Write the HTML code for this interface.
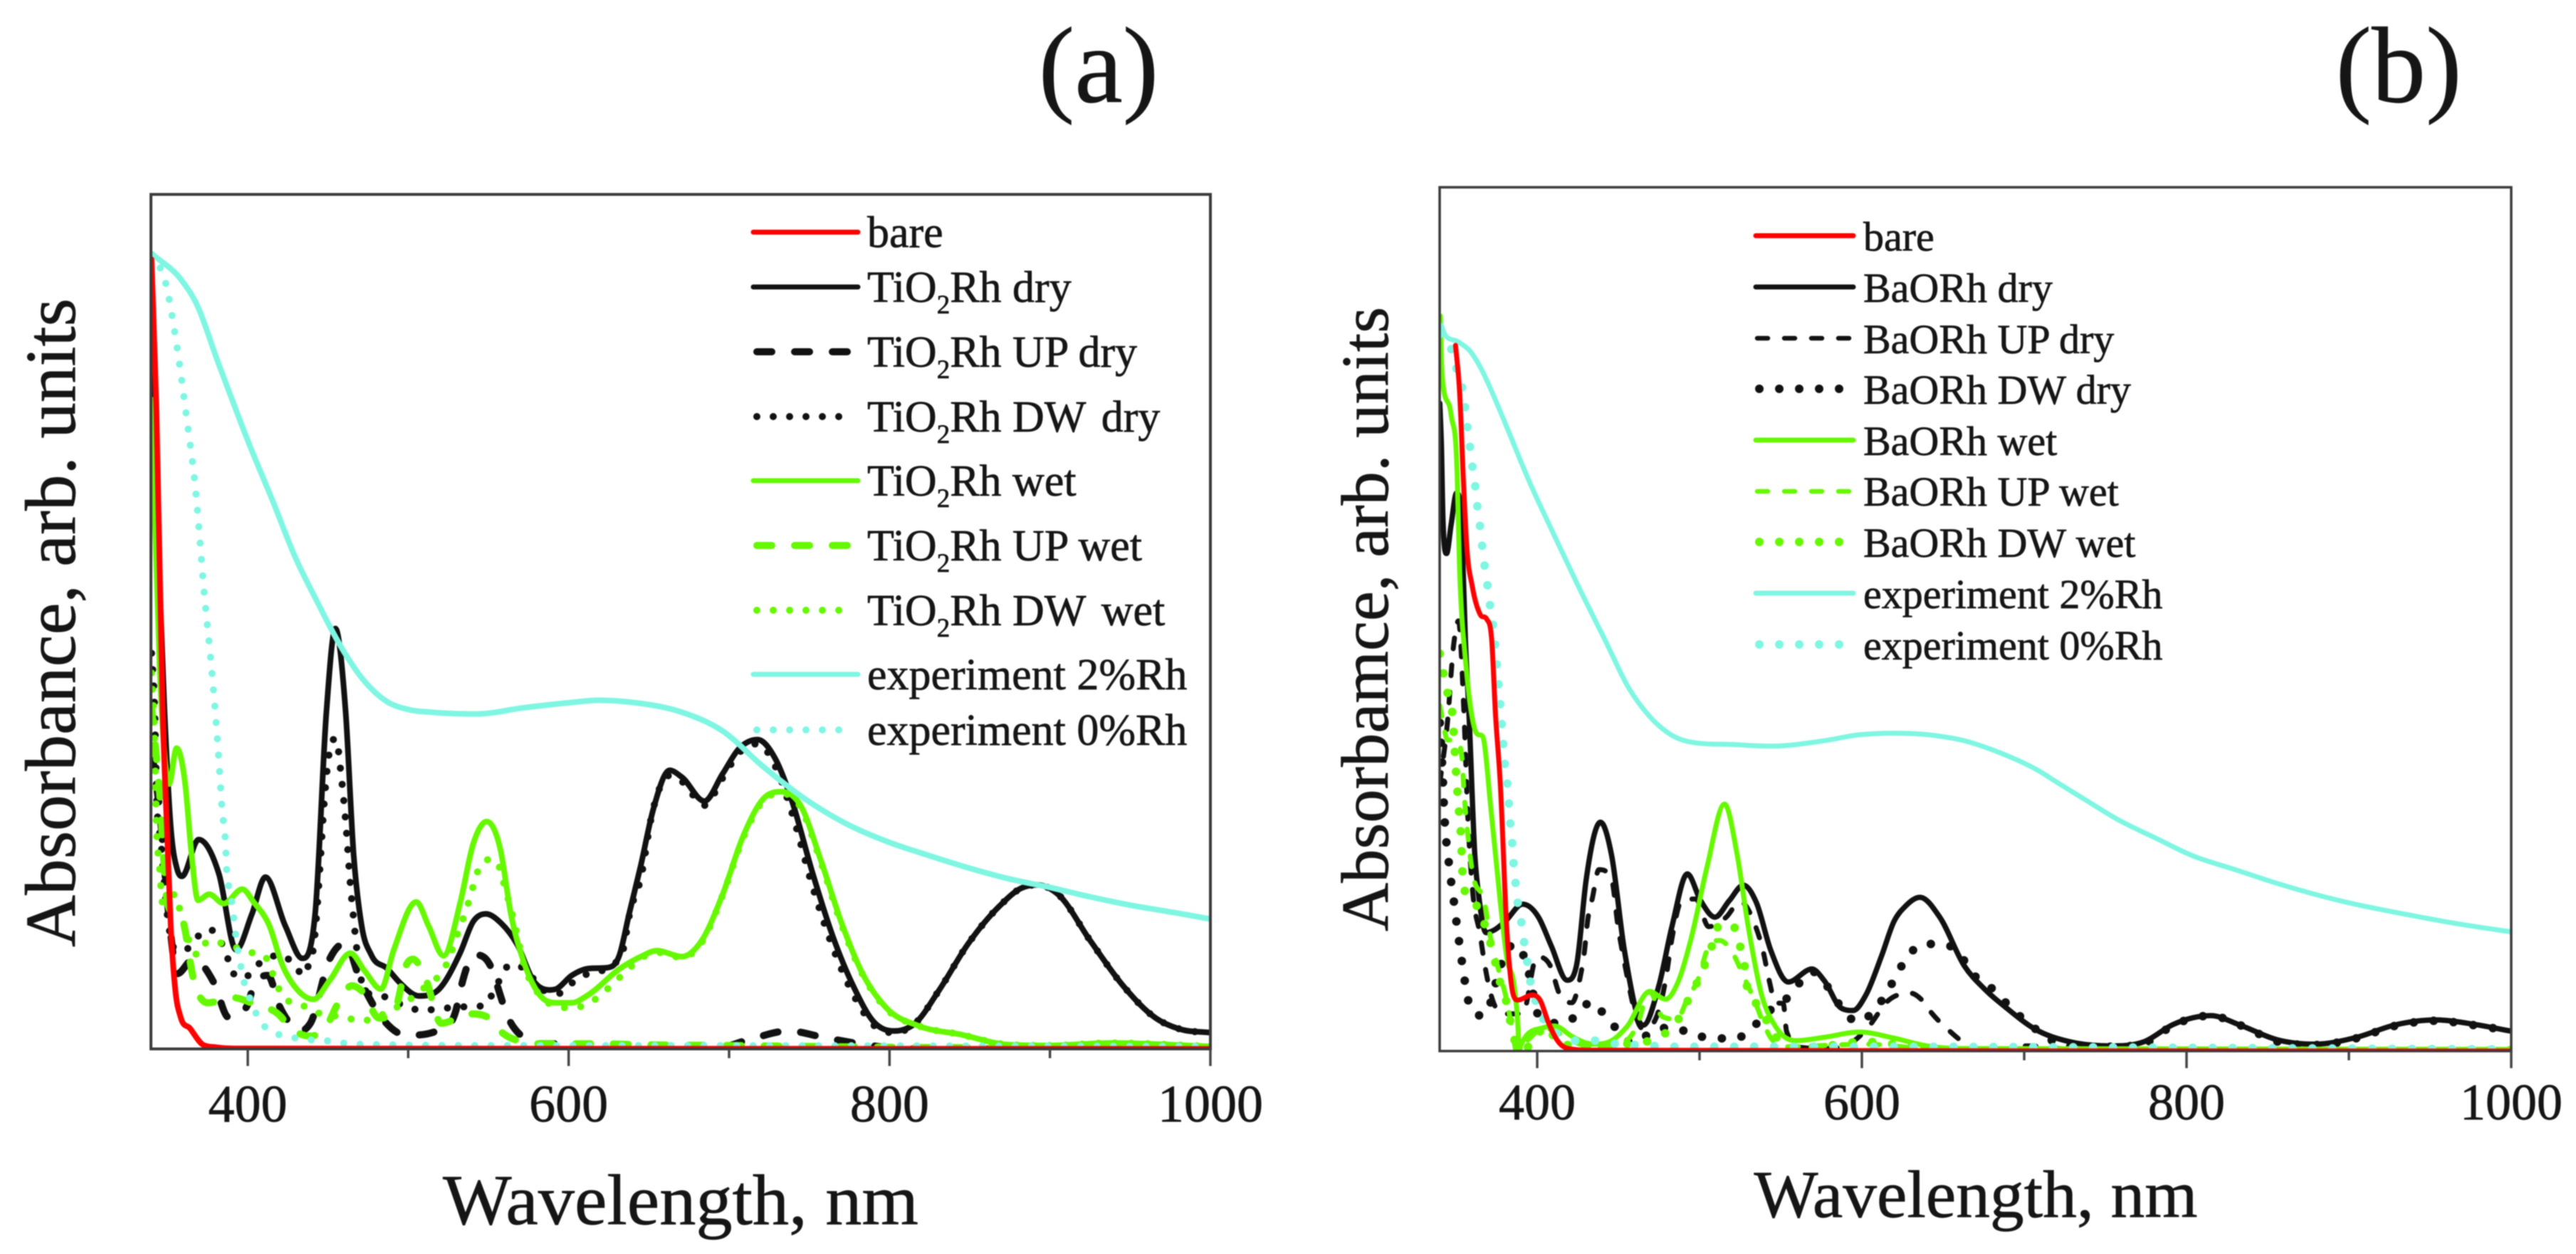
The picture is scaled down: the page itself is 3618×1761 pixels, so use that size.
<!DOCTYPE html>
<html>
<head>
<meta charset="utf-8">
<title>Absorbance spectra</title>
<style>
html,body{margin:0;padding:0;background:#fff;width:3618px;height:1761px;overflow:hidden}
svg{display:block;filter:blur(.9px)}
text{font-family:"Liberation Serif",serif;fill:#151515;stroke:#151515;stroke-width:.7px;white-space:pre}
.la text,.la{font-size:62px}
.lb text,.lb{font-size:58px}
</style>
</head>
<body>
<svg id="chart" xmlns="http://www.w3.org/2000/svg" width="3618" height="1761" viewBox="0 0 3618 1761">
<defs>
<clipPath id="clipA"><rect x="212" y="273" width="1488" height="1200"/></clipPath>
<clipPath id="clipB"><rect x="2022" y="262" width="1505" height="1214"/></clipPath>
</defs>
<rect width="3618" height="1761" fill="#fff"/>

<g id="panelA">
<text x="1543" y="143" font-size="152" text-anchor="middle">(a)</text>
<g id="plotA" clip-path="url(#clipA)"></g>
<rect x="212" y="273" width="1488" height="1200" fill="none" stroke="#3a3a3a" stroke-width="4"/>
<g id="ticksA"></g>
<text x="956" y="1719" font-size="101" text-anchor="middle" textLength="668" lengthAdjust="spacingAndGlyphs">Wavelength, nm</text>
<text transform="translate(105,1330) rotate(-90)" font-size="101" textLength="911" lengthAdjust="spacingAndGlyphs">Absorbance, arb. units</text>
<g class="la">
<g><line x1="1058" x2="1205" y1="326" y2="326" stroke="#ff0000" stroke-width="7" stroke-linecap="round"/><text x="1218" y="347">bare</text></g>
<g><line x1="1058" x2="1205" y1="403" y2="403" stroke="#111" stroke-width="7" stroke-linecap="round"/><text x="1218" y="424">TiO<tspan dy="16" font-size="37">2</tspan><tspan dy="-16">Rh dry</tspan></text></g>
<g><line x1="1063" x2="1195" y1="494" y2="494" stroke="#111" stroke-width="10" stroke-linecap="round" stroke-dasharray="21 32"/><text x="1218" y="515">TiO<tspan dy="16" font-size="37">2</tspan><tspan dy="-16">Rh UP dry</tspan></text></g>
<g><line x1="1063" x2="1201" y1="585" y2="585" stroke="#111" stroke-width="10" stroke-linecap="round" stroke-dasharray="0 23"/><text x="1218" y="606">TiO<tspan dy="16" font-size="37">2</tspan><tspan dy="-16">Rh DW </tspan><tspan dx="7">dry</tspan></text></g>
<g><line x1="1058" x2="1205" y1="675" y2="675" stroke="#66f800" stroke-width="7" stroke-linecap="round"/><text x="1218" y="696">TiO<tspan dy="16" font-size="37">2</tspan><tspan dy="-16">Rh wet</tspan></text></g>
<g><line x1="1063" x2="1195" y1="766" y2="766" stroke="#66f800" stroke-width="10" stroke-linecap="round" stroke-dasharray="21 32"/><text x="1218" y="787">TiO<tspan dy="16" font-size="37">2</tspan><tspan dy="-16">Rh UP wet</tspan></text></g>
<g><line x1="1063" x2="1201" y1="857" y2="857" stroke="#66f800" stroke-width="10" stroke-linecap="round" stroke-dasharray="0 23"/><text x="1218" y="878">TiO<tspan dy="16" font-size="37">2</tspan><tspan dy="-16">Rh DW </tspan><tspan dx="7">wet</tspan></text></g>
<g><line x1="1058" x2="1205" y1="947" y2="947" stroke="#7ff6e2" stroke-width="7" stroke-linecap="round"/><text x="1218" y="968">experiment 2%Rh</text></g>
<g><line x1="1063" x2="1201" y1="1025" y2="1025" stroke="#7ff6e2" stroke-width="10" stroke-linecap="round" stroke-dasharray="0 23"/><text x="1218" y="1046">experiment 0%Rh</text></g>
</g>
</g>

<g id="panelB">
<text x="3369" y="143" font-size="152" text-anchor="middle">(b)</text>
<g id="plotB" clip-path="url(#clipB)"></g>
<rect x="2022" y="263" width="1505" height="1213" fill="none" stroke="#3a3a3a" stroke-width="3.5"/>
<g id="ticksB"></g>
<text x="2775" y="1709" font-size="94" text-anchor="middle" textLength="623" lengthAdjust="spacingAndGlyphs">Wavelength, nm</text>
<text transform="translate(1949,1308) rotate(-90)" font-size="94" textLength="877" lengthAdjust="spacingAndGlyphs">Absorbamce, arb. units</text>
<g class="lb">
<g><line x1="2466" x2="2603" y1="331" y2="331" stroke="#ff0000" stroke-width="7" stroke-linecap="round"/><text x="2617" y="352">bare</text></g>
<g><line x1="2466" x2="2603" y1="403" y2="403" stroke="#111" stroke-width="7" stroke-linecap="round"/><text x="2617" y="424">BaORh dry</text></g>
<g><line x1="2468" x2="2600" y1="475" y2="475" stroke="#111" stroke-width="6.5" stroke-linecap="round" stroke-dasharray="15 23"/><text x="2617" y="496">BaORh UP dry</text></g>
<g><line x1="2471" x2="2590" y1="546" y2="546" stroke="#111" stroke-width="12" stroke-linecap="round" stroke-dasharray="0 28"/><text x="2617" y="567">BaORh DW dry</text></g>
<g><line x1="2466" x2="2603" y1="618" y2="618" stroke="#66f800" stroke-width="7" stroke-linecap="round"/><text x="2617" y="639">BaORh wet</text></g>
<g><line x1="2468" x2="2600" y1="690" y2="690" stroke="#66f800" stroke-width="6.5" stroke-linecap="round" stroke-dasharray="15 23"/><text x="2617" y="710">BaORh UP wet</text></g>
<g><line x1="2471" x2="2590" y1="761" y2="761" stroke="#66f800" stroke-width="12" stroke-linecap="round" stroke-dasharray="0 28"/><text x="2617" y="782">BaORh DW wet</text></g>
<g><line x1="2466" x2="2603" y1="833" y2="833" stroke="#7ff6e2" stroke-width="7" stroke-linecap="round"/><text x="2617" y="854">experiment 2%Rh</text></g>
<g><line x1="2471" x2="2590" y1="905" y2="905" stroke="#7ff6e2" stroke-width="12" stroke-linecap="round" stroke-dasharray="0 28"/><text x="2617" y="926">experiment 0%Rh</text></g>
</g>
</g>
</svg>
<script>
// Axis tick values
const majorTicks = [400, 600, 800, 1000];
const minorTicks = [500, 700, 900];
const tickLabels = ['400', '600', '800', '1000'];

// Panel (a): wavelengths (nm) and absorbance (percent of frame height)
const aBareW = [340,343,347,350,352,355,358,364,372,380,394,1000];
const aBareV = [92.4,75,39.4,24,14.4,6.6,3.8,2.4,0.5,0.2,0.05,0];
const aDryW = [340,344,348,352,356,359,369.4,382,392.7,402.6,411,423.4,434,442,449,454.6,461,466,471,477,486.9,495,506.7,518.7,532.5,540.5,548.4,558,568,578,588,592,602,612,623.8,631.7,637.7,645,652.7,663,670.6,684.6,696,706,717.7,729,739.4,752,764.8,777.6,790,803,816,831,849,869,882,892,905,925,946,966,981.4,1000];
const aDryV = [80,60,40,26,21,20.2,24.5,20.5,11.6,15.8,20.1,14.4,10.6,15.8,39.4,49.2,39.4,22.7,14.4,11,9.4,7.7,6.2,6.9,11.3,14.9,15.8,14.7,12.2,8,6.9,7,8.6,9.4,9.5,11,15.8,21.5,28,32.6,31.8,29,32.2,35.1,36.2,33.9,28.9,20.6,13.1,7.3,3.2,2.1,3,6.9,12.3,16.8,18.8,19.2,18.1,12.7,7.3,3.6,2.3,1.9];
const aUpDryW = [340,345,351,356,366,379,388,400,402.6,412.5,420,434,439,451,461,469,485,499,519,529.6,532.5,541.5,552,555,562,572,580,597,612,690,711,737,760,785,810,1000];
const aUpDryV = [35,28,15.2,8.8,10.5,7.7,3.7,5.2,6.8,8.6,4.9,2.2,3,10.5,12.4,8.6,3.3,1.6,2.2,4.4,6.9,11,9.4,7.7,3.8,1.3,0.6,0.6,0,0,1,2.1,1.3,0.5,0,0];
const aDwDryW = [340,342,343,346,350,355,362,368,376,383,387,390,398,404,421,429,435,438,441,445,447,451,455,458,461,464,466,468,470,475,482,501,509,519,532.5,548,553.4,564,573,584,594,604,612,620,628,634,638,645,652,663,670.6,684.6,696,706,717.7,729,739.4,752,764.8,777.6,790,803,816,831,849,869,882,892,905,925,946,966,981.4,1000];
const aDwDryV = [46.3,39.4,31,24,15.5,11.6,11.7,13,14,12.6,10.9,9.1,8.3,9.5,11,9.8,8.6,9.9,11.9,21.3,27.2,34.9,36.3,32.4,26.6,19.1,15.2,11.6,8.8,6.5,6.3,4.8,4.5,4.7,4.9,5.1,6.8,9.9,9.3,6.9,6.5,8,8.8,9.1,9.9,11.6,15.8,20,27.5,32,31.3,28.5,31.7,34.6,35.7,33,27.5,19,11.8,6.3,2.8,1.9,3,6.9,12.3,16.8,18.8,19.2,18.1,12.7,7.3,3.6,2.3,1.9];
const aWetW = [340,345,351,355.6,361,365,369,376,385,396.6,403.6,413.5,421.4,431,441,451,464,473,483,491,505,512.7,522,532.5,540.5,549,557.5,564,572,582,592,602,612,632,645,655,670.6,683,696,709,721.5,733,744.5,757,770,782.7,798,818,844,874,900,938,1000];
const aWetV = [76,45,31,35.2,31,22.7,17.4,18.1,17,18.7,17.2,14.4,9.9,6.9,5.8,8,11.2,9.1,7,11.6,17.2,14.4,10.9,17.2,24,26.6,23.3,15.8,10.2,6.3,5.4,5.4,6.3,9.4,10.8,11.5,10.8,12.7,18.1,25,29.3,30.1,28.5,22.2,14.8,9,4.8,2.7,1.7,0.5,0.4,0.7,0.3];
const aUpWetW = [340,345,350,360,366,375,390.7,404.6,421,424,439,451,455,465,471,482,492,499,503,510.7,520.6,538.5,550.4,558,572,580,598,620,645,700,800,1000];
const aUpWetV = [40,30,17,14.7,8.3,5.4,6,5.2,3.7,3,1.5,3.3,4.9,7.4,6.8,3.6,4.7,9.9,10.5,8.3,3,4.1,3.6,2,0.8,0.6,0.6,0.6,0.5,0.4,0.2,0.1];
const aDwWetW = [340,342,343,345,347,355,358,369,375,383,401.6,410.5,414.5,418,423.4,431,441,460,471,491,501,509,524.6,532.5,535.5,538.5,541.5,545,553,558,560.3,563.3,566,573,578,584,591,600,610,620,628,636,645,655,670.6,683,696,709,721.5,733,744.5,757,770,782.7,798,818,844,874,900,938,1000];
const aDwWetV = [44,36,27,21.3,17,18.1,16,11,12.6,12.4,11.3,10.9,9.3,7.6,5.8,5.4,4.4,3.7,3.3,4.7,5.8,7,10.2,14.4,15.9,17.7,19.7,21.5,22.2,20.6,18.8,16.9,14.9,9.3,7.4,5.8,5.1,4.8,5.1,6.3,7.7,9.1,10.6,11.3,10.7,12.5,18,24.8,29.1,29.9,28.3,22,14.6,8.9,4.7,2.7,1.7,0.5,0.4,0.7,0.3];
const aExp2W = [340.6,359,367.5,381.6,400,415.6,429.7,443.9,458,472,486.3,500.5,514.6,543,571,599.5,619,642,670.6,696,721.5,747,772.5,798,823.4,849,874.6,900,925,950.8,976,1000];
const aExp2V = [93,89.9,87.4,80.3,71.2,64.1,57.5,52.1,47.1,43.2,40.7,39.7,39.4,39.2,39.9,40.5,40.8,40.5,39.4,37.2,33,29.3,26.4,24.3,22.7,21.2,19.9,18.9,17.8,16.8,16,15.2];
const aExp0W = [340,349,356,362,367.5,373,377.4,382,384,386,387,389,390.7,392.7,394.6,396.6,398.6,402.6,406.5,413.5,423,433,443,453,463,485,532,612,1000];
const aExp0V = [93,89.5,82,73.7,65.4,53,44.6,33.8,28,24.4,20.5,18.6,16.3,13,10.8,8.8,7.2,5.4,3.6,2.2,1.5,1.2,1,0.9,0.6,0.5,0.4,0.4,0.3];

// Panel (b): wavelengths (nm) and absorbance (percent of frame height)
const bBareW = [349.7,352.2,354.4,356.6,360,365,368.9,372,374.3,377.3,381.2,385,388,396.9,401.8,406.7,412.5,422.3,434,1000];
const bBareV = [81.7,76.3,66.7,58.5,53.8,50.5,50,47.5,39,30.9,14.4,6.7,5.9,6.5,5.9,3.4,1.2,0.2,0.1,0];
const bDryW = [340,341,342,344.2,347,350.3,353,354.4,355.8,358,361.6,364.5,368.5,373.4,380.2,391,400.8,408.6,418.4,424.3,430.2,439,445.8,453.7,465.4,475,483,492.5,500.7,509.5,518.3,527,535,543.8,554.6,569.2,577,587,594.7,602.5,612.3,619.8,627,635.8,648,663,676,689,707,727.6,753,774,792,815,833,856,879,905,928,953.6,977,1000];
const bDryV = [75,70,61.2,57.6,61,64.6,62.6,55.7,47.5,39,22.7,17.2,13.7,14,15,17,15.5,12.2,8.2,10,19.9,26.5,22.7,11.7,3,7.6,14.4,20.5,17.4,15.5,17.4,19.2,17.2,11.7,8,9.5,8.1,5,4.7,6.5,11.1,15,16.8,17.8,15.5,9.9,7.1,5,2.5,1.1,0.6,1.1,3.1,4.1,3,1.3,0.8,1.6,3,3.6,3.1,2.3];
const bUpDryW = [340,344.7,348.5,351.5,354.8,357.3,360,365,367.5,371,379,391,399.8,408,413.5,421.4,426.3,429.2,431,434,438,445.8,449.8,453.7,465,475,479,483,489,497.7,505.6,516.4,525,534,539,543,546.7,551.6,553.6,563.4,579,596.7,604.5,616,630,637,643,653,666,681,702,727.6,800,1000];
const bUpDryV = [31,38,47,49.8,39.6,27,19,13.3,10.2,6.9,4.3,4.3,10.9,9.9,6.7,5.6,8.4,11.7,15,17.7,21,19.9,14.4,10.3,2.6,4.8,8.1,13,17.4,17.6,14.4,15.5,17.3,14.7,11.7,8.1,5.6,5.5,2.3,0.4,0.3,1.4,2.9,5.8,6.7,5.9,4.4,2.5,0.6,0,0.6,0.2,0,0];
const bDwDryW = [340,342,342.6,343.4,344.4,346,347.5,349.3,350.8,352.4,354.2,356.1,359,367,379,385.5,391.5,395,397,400,416,425.6,433,442,458.6,475,485,496,507.2,519.8,532,540,550,558.8,565.6,569.6,577,588.8,596.7,609.4,616,625,637.7,649.5,660,668,678,694,704,714,725,753,774,792,815,833,856,879,905,928,953.6,977,1000];
const bDwDryV = [38,30.9,28,25.7,23.5,21.2,18.8,16.5,14.1,12,9.6,7.3,4.9,4.1,10.6,12.4,11.1,8.9,7.1,4.4,3.2,4.4,5.7,4.1,1,2.6,2.7,1.8,1.6,1.4,2.5,4.3,5.4,7.2,8.8,9.2,7.9,4.7,3.4,5.1,7,10,12.4,12.4,11.3,9,7.6,4.6,3,1.6,0.6,0.5,0.9,3,4.1,3,1.1,0.7,1.5,2.9,3.5,3,2.3];
const bWetW = [340.4,341.2,347,350.7,352.2,353.6,355,358.5,362.6,366.5,371.4,377.3,381.2,386,388,389,390,403.7,410.6,422.3,434,445.8,455.6,469.3,479,487,494.8,504.6,515.4,523.2,530,538,547.7,559.5,577,598.6,619.8,640,660,1000];
const bWetV = [85.1,79,73.6,66.7,55.7,50.2,47,40.4,36.8,36.4,28.2,17.2,10.9,7.3,3.4,0.1,0.7,2.7,2.9,1.6,0.8,1.2,2.9,6.9,6,8.1,13,21.3,28.6,22.7,14.4,6.7,2.6,1.2,1.6,2.2,1.5,0.6,0.3,0.2];
const bUpWetW = [340,345,350,353.8,354.8,357.7,359.6,367.5,371.4,377.3,380.2,385,387,395,403.7,410.6,422.3,434,449.8,461.5,469.3,477,486,492.9,498.7,505.6,512.4,520.3,527,534,539,544,555.5,583,602.5,640,1000];
const bUpWetV = [40,36,36,33.7,30.4,24.3,21.3,17.2,13,8.7,6.7,2.1,0.1,1.4,2.7,2.3,1.1,0.5,0.7,2.9,6.9,4,3.7,6.2,8.1,12.1,12.8,11.4,8.7,5.8,3.4,1.5,0.5,0.7,0.8,0.3,0.1];
const bDwWetW = [340,344,348,350,352,353,354,356,361.6,373.4,376.3,380.2,385,388,396.9,405,414.5,449.8,480,486,493,498.7,507.5,511.5,520.3,524,527.5,529,534,540.8,547.7,561.4,583,600.6,619.8,650,1000];
const bDwWetV = [46,42,38.5,32.3,27.3,25.1,20.5,18.3,17.2,10.9,8.5,6.3,2.1,0.3,0.8,2.9,0.7,0.8,2.2,3.4,5.9,8,12.1,14.4,14.7,12.6,10.3,7.8,5.8,3.7,1.5,0.4,0.7,1.1,0.8,0.2,0.1];
const bExp2W = [341,342.7,351.4,358.8,366,373.3,380.7,395.2,410,424.6,442,456.5,469,481.7,501.8,519,544.5,575.9,597.8,619.7,641.7,663.6,685.5,707.5,722,736.7,758.6,780.5,803.9,830,856,894.5,933,971.5,1000];
const bExp2V = [84,83.1,82.1,81,78.8,75.8,72.5,65.9,59.9,54.1,47.5,42,38.8,36.7,35.6,35.5,35.3,35.9,36.6,36.8,36.6,35.9,34.5,32.6,30.9,29.2,26.7,24.7,22.6,21,19.4,17.4,15.9,14.6,13.8];
const bExp0W = [340,343,346.4,349.6,353.6,355.4,356.9,358.4,360,361.7,363,364.6,366,367.5,369.3,370.8,372.7,374.9,378.2,380.2,381.6,382.6,383.5,384.7,385.5,386.7,388,390.4,392,394,396,399.8,404.7,414.5,424.3,436,449.8,461.5,486,510.5,547.7,598.6,1000];
const bExp0V = [83,82,81.6,79.4,77,74.8,72.5,70.2,67.8,65.6,63.3,61,58.6,56.3,54,51.8,49.4,45.3,37.8,33,31,28.6,26.2,23.9,21.6,19.4,17.2,14.7,12.5,10.2,7.8,5.4,3.4,1.8,1.2,1.2,0.8,0.7,0.5,0.5,0.5,0.5,0.2];

const BLACK = '#111', GREEN = '#66f800', CYAN = '#7ff6e2', RED = '#ff0000';
const NS = 'http://www.w3.org/2000/svg';

const xA = w => 348 + (w - 400) * 2.2533;
const yA = v => 1473 - v * 12;
const xB = w => 2159 + (w - 400) * 2.28;
const yB = v => 1476 - v * 12.13;

// Smooth cubic path through the data, mapped through the axis functions
function smoothPath(ws, vs, xf, yf) {
  const n = Math.min(ws.length, vs.length);
  const X = [], Y = [];
  for (let i = 0; i < n; i++) { X.push(xf(ws[i])); Y.push(yf(vs[i])); }
  const s = [], m = [];
  for (let i = 0; i < n - 1; i++) s.push((Y[i + 1] - Y[i]) / (X[i + 1] - X[i]));
  m[0] = s[0]; m[n - 1] = s[n - 2];
  for (let i = 1; i < n - 1; i++) {
    if (s[i - 1] * s[i] <= 0) { m[i] = 0; continue; }
    const a = X[i] - X[i - 1], b = X[i + 1] - X[i];
    const t = (s[i - 1] * b + s[i] * a) / (a + b);
    const lim = 3 * Math.min(Math.abs(s[i - 1]), Math.abs(s[i]));
    m[i] = Math.sign(t) * Math.min(Math.abs(t), lim);
  }
  let d = 'M' + X[0].toFixed(1) + ' ' + Y[0].toFixed(1);
  for (let i = 0; i < n - 1; i++) {
    const h = (X[i + 1] - X[i]) / 3;
    d += 'C' + (X[i] + h).toFixed(1) + ' ' + (Y[i] + m[i] * h).toFixed(1) + ' ' +
         (X[i + 1] - h).toFixed(1) + ' ' + (Y[i + 1] - m[i + 1] * h).toFixed(1) + ' ' +
         X[i + 1].toFixed(1) + ' ' + Y[i + 1].toFixed(1);
  }
  return d;
}

function drawSeries(parent, name, ws, vs, xf, yf, color, width, dash) {
  const p = document.createElementNS(NS, 'path');
  
  
  p.setAttribute('d', smoothPath(ws, vs, xf, yf));
  p.setAttribute('fill', 'none');
  p.setAttribute('stroke', color);
  p.setAttribute('stroke-width', width);
  p.setAttribute('stroke-linecap', 'round');
  p.setAttribute('stroke-linejoin', 'round');
  if (dash) p.setAttribute('stroke-dasharray', dash);
  parent.appendChild(p);
}

function drawTicks(parent, xf, axisY, fontSize, labelY) {
  majorTicks.forEach(function (t, i) {
    const l = document.createElementNS(NS, 'line');
    
    
    l.setAttribute('x1', xf(t)); l.setAttribute('x2', xf(t));
    l.setAttribute('y1', axisY); l.setAttribute('y2', axisY + 24);
    l.setAttribute('stroke', '#444'); l.setAttribute('stroke-width', 3.5);
    parent.appendChild(l);
    const txt = document.createElementNS(NS, 'text');
    
    
    txt.setAttribute('x', xf(t)); txt.setAttribute('y', labelY);
    txt.setAttribute('font-size', fontSize);
    txt.setAttribute('text-anchor', 'middle');
    txt.textContent = tickLabels[i];
    parent.appendChild(txt);
  });
  minorTicks.forEach(function (t) {
    const l = document.createElementNS(NS, 'line');
    
    
    l.setAttribute('x1', xf(t)); l.setAttribute('x2', xf(t));
    l.setAttribute('y1', axisY); l.setAttribute('y2', axisY + 13);
    l.setAttribute('stroke', '#444'); l.setAttribute('stroke-width', 3.5);
    parent.appendChild(l);
  });
}

const plotA = document.getElementById('plotA');
drawSeries(plotA, 'series-tio2rh-dry', aDryW, aDryV, xA, yA, BLACK, 8);
drawSeries(plotA, 'series-tio2rh-up-dry', aUpDryW, aUpDryV, xA, yA, BLACK, 10, '21 32');
drawSeries(plotA, 'series-tio2rh-dw-dry', aDwDryW, aDwDryV, xA, yA, BLACK, 10, '0 23');
drawSeries(plotA, 'series-tio2rh-wet', aWetW, aWetV, xA, yA, GREEN, 8);
drawSeries(plotA, 'series-tio2rh-up-wet', aUpWetW, aUpWetV, xA, yA, GREEN, 10, '21 32');
drawSeries(plotA, 'series-tio2rh-dw-wet', aDwWetW, aDwWetV, xA, yA, GREEN, 10, '0 23');
drawSeries(plotA, 'series-experiment-0-rh', aExp0W, aExp0V, xA, yA, CYAN, 10, '0 23');
drawSeries(plotA, 'series-experiment-2-rh', aExp2W, aExp2V, xA, yA, CYAN, 8);
drawSeries(plotA, 'series-bare', aBareW, aBareV, xA, yA, RED, 8);
drawTicks(document.getElementById('ticksA'), xA, 1473, 74, 1575);

const plotB = document.getElementById('plotB');
drawSeries(plotB, 'series-baorh-dry', bDryW, bDryV, xB, yB, BLACK, 7.5);
drawSeries(plotB, 'series-baorh-up-dry', bUpDryW, bUpDryV, xB, yB, BLACK, 7, '15 23');
drawSeries(plotB, 'series-baorh-dw-dry', bDwDryW, bDwDryV, xB, yB, BLACK, 12, '0 28');
drawSeries(plotB, 'series-baorh-wet', bWetW, bWetV, xB, yB, GREEN, 7);
drawSeries(plotB, 'series-baorh-up-wet', bUpWetW, bUpWetV, xB, yB, GREEN, 7, '15 23');
drawSeries(plotB, 'series-baorh-dw-wet', bDwWetW, bDwWetV, xB, yB, GREEN, 12, '0 28');
drawSeries(plotB, 'series-experiment-0-rh', bExp0W, bExp0V, xB, yB, CYAN, 12, '0 28');
drawSeries(plotB, 'series-experiment-2-rh', bExp2W, bExp2V, xB, yB, CYAN, 7);
drawSeries(plotB, 'series-bare', bBareW, bBareV, xB, yB, RED, 7);
drawTicks(document.getElementById('ticksB'), xB, 1476, 72, 1572);
</script>
</body>
</html>
